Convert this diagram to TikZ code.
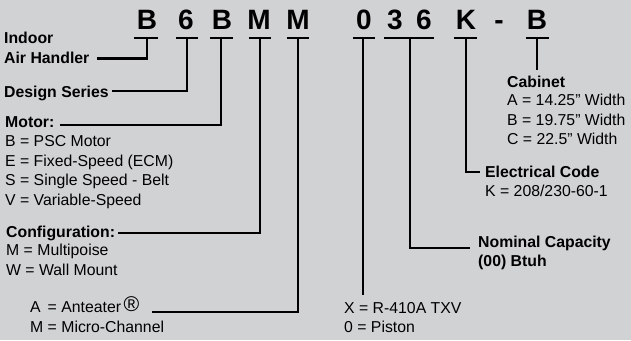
\documentclass[tikz,border=0pt]{standalone}
\usepackage{fontspec}
\setmainfont{Liberation Sans}
\usetikzlibrary{calc}
\definecolor{bg}{HTML}{D1D2D4}
\begin{document}
\begin{tikzpicture}[x=1pt,y=-1pt,
  big/.style={font=\fontsize{28}{28}\selectfont\bfseries, anchor=base, inner sep=0pt},
  lab/.style={font=\fontsize{15.8}{19.5}\selectfont\bfseries, anchor=base west, inner sep=0pt},
  txt/.style={font=\fontsize{15.8}{19.5}\selectfont, anchor=base west, inner sep=0pt},
  conn/.style={line width=2.2pt},
  bar/.style={line width=2.2pt}]
\fill[bg] (0,0) rectangle (631,340);
\useasboundingbox (0,0) rectangle (631,340);

% code letters
\node[big] (c1) at (147,29) {B};
\node[big] (c2) at (186,29) {6};
\node[big] (c3) at (222,29) {B};
\node[big] (c4) at (259,29) {M};
\node[big] (c5) at (298,29) {M};
\node[big] (c6) at (364,29) {0};
\node[big] (c7) at (395,29) {3};
\node[big] (c8) at (424,29) {6};
\node[big] (c9) at (466,29) {K};
\node[big] (c10) at (499,29) {-};
\node[big] (c11) at (537,29) {B};

% underline bars
\draw[bar] (134,38) -- (158,38);
\draw[bar] (176,38) -- (198,38);
\draw[bar] (210,38) -- (233,38);
\draw[bar] (249,38) -- (271,38);
\draw[bar] (287,38) -- (309,38);
\draw[bar] (353,38) -- (375,38);
\draw[bar] (384,38) -- (434,38);
\draw[bar] (454,38) -- (477,38);
\draw[bar] (526,38) -- (549,38);

\coordinate (b1) at (147,38);
\coordinate (b2) at (187,38);
\coordinate (b3) at (221,38);
\coordinate (b4) at (260,38);
\coordinate (b5) at (298,38);
\coordinate (b6) at (363,38);
\coordinate (b7) at (410,38);
\coordinate (b8) at (466,38);
\coordinate (b9) at (537,38);

% left labels
\node[lab] (indoor) at (4,43) {Indoor};
\node[lab] (air) at (4,63) {Air Handler};
\node[lab] (design) at (4,97) {Design Series};
\node[lab] (motor) at (5,127) {Motor:};
\node[txt] (m1) at (5,146.5) {B = PSC Motor};
\node[txt] (m2) at (5,166) {E = Fixed-Speed (ECM)};
\node[txt] (m3) at (5,185.5) {S = Single Speed - Belt};
\node[txt] (m4) at (5,205) {V = Variable-Speed};
\node[lab] (config) at (6,237) {Configuration:};
\node[txt] (cf1) at (6,255.5) {M = Multipoise};
\node[txt] (cf2) at (6,275) {W = Wall Mount};
\node[txt] (coil) at (30,312.5) {\rlap{A}\phantom{M} = Anteater\,\raisebox{1.5pt}{\scalebox{1.35}{®}}};
\node[txt] (coil2) at (30,332) {M = Micro-Channel};

% middle / right labels
\node[txt] (x1) at (344,313) {X = R-410A TXV};
\node[txt] (x2) at (344,332.5) {0 = Piston};
\node[lab] (nom) at (478,247) {Nominal Capacity};
\node[lab] (nom2) at (478,266) {(00) Btuh};
\node[lab] (elec) at (485,177) {Electrical Code};
\node[txt] (elec2) at (485,196.5) {K = 208/230-60-1};
\node[lab] (cab) at (507,87) {Cabinet};
\node[txt] (cab1) at (507,105.5) {A = 14.25'' Width};
\node[txt] (cab2) at (507,125) {B = 19.75'' Width};
\node[txt] (cab3) at (507,144.5) {C = 22.5'' Width};

% connector ends
\coordinate (airE) at ($(air.base east)+(7,-4.5)$);
\coordinate (designE) at ($(design.base east)+(3,-6.3)$);
\coordinate (motorE) at ($(motor.base east)+(5,-2)$);
\coordinate (configE) at ($(config.base east)+(3,-4)$);
\coordinate (coilE) at ($(coil.base east)+(12,-0.5)$);
\coordinate (nomW) at ($(nom.base west)+(-8,1)$);
\coordinate (elecW) at ($(elec.base west)+(-5,-5)$);
\coordinate (e6) at (363,295);
\coordinate (e9) at (537,70);

% connectors
\draw[conn] (b1) |- (airE);
\draw[conn] (b2) |- (designE);
\draw[conn] (b3) |- (motorE);
\draw[conn] (b4) |- (configE);
\draw[conn] (b5) |- (coilE);
\draw[conn] (b6) -- (e6);
\draw[conn] (b7) |- (nomW);
\draw[conn] (b8) |- (elecW);
\draw[conn] (b9) -- (e9);
\end{tikzpicture}
\end{document}
